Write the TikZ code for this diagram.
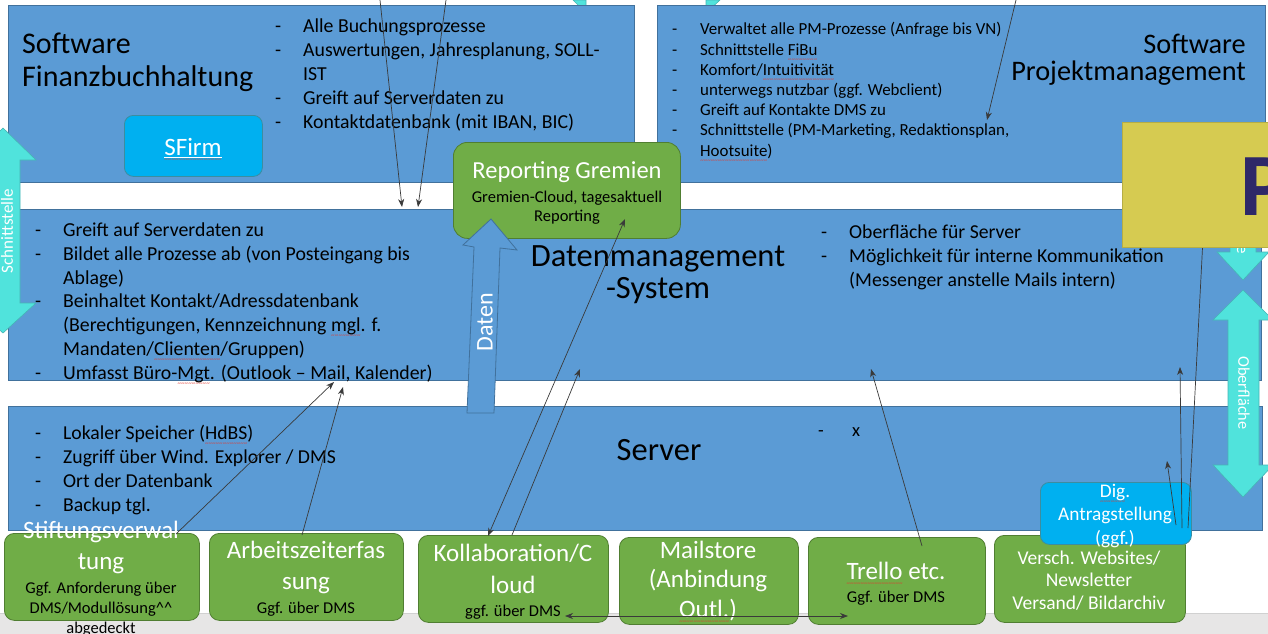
\documentclass[tikz,border=0pt]{standalone}
\usepackage{fontspec}
\setmainfont{Carlito}
\usetikzlibrary{arrows.meta}

\definecolor{boxblue}{HTML}{5B9BD5}
\definecolor{blueedge}{HTML}{41719C}
\definecolor{boxgreen}{HTML}{70AD47}
\definecolor{greenedge}{HTML}{507E32}
\definecolor{boxcyan}{HTML}{00B0F0}
\definecolor{cyanedge}{HTML}{3C8DA0}
\definecolor{turq}{HTML}{50E3DC}
\definecolor{turqedge}{HTML}{45B5B5}
\definecolor{boxyellow}{HTML}{D6CB51}
\definecolor{pnavy}{HTML}{2E2868}
\definecolor{linegray}{HTML}{3A3A3A}
\definecolor{stripgray}{HTML}{E7E6E6}
\definecolor{wavered}{HTML}{E03A30}

\newcommand\setfs[2]{\fontsize{#1}{#2}\selectfont}
\newcommand\dashitem{\makebox[28pt][l]{-}}
\newcommand\dashcont{\makebox[28pt][l]{}}
% red wavy line under a word
\newsavebox\wavebox
\newcommand\spellwave[1]{\leavevmode\sbox\wavebox{#1}%
  \rlap{\raisebox{-6pt}[0pt][0pt]{\textcolor{wavered}{\hbox to \wd\wavebox{\fontsize{7}{7}\selectfont\xleaders\hbox{\textasciitilde}\hfil}}}}%
  \usebox\wavebox}

\tikzset{
  bluebox/.style={draw=blueedge, fill=boxblue, line width=0.8pt, inner sep=0pt, anchor=north west},
  greenbox/.style={draw=greenedge, fill=boxgreen, line width=0.8pt, rounded corners=10pt, inner sep=0pt, anchor=north west},
  cyanbox/.style={draw=cyanedge, fill=boxcyan, line width=0.8pt, rounded corners=9pt, inner sep=0pt, anchor=north west},
  turqarrow/.style={draw=turqedge, fill=turq, line width=0.6pt},
  % multi-line texts sit on the baseline of their last line
  txt/.style={inner sep=0pt, anchor=base west, align=left},
  ctxt/.style={inner sep=0pt, anchor=base, align=center},
  conn/.style={draw=linegray, line width=0.7pt, -{Stealth[length=8pt,width=6pt]}},
  bothconn/.style={draw=linegray, line width=0.7pt, {Stealth[length=8pt,width=6pt]}-{Stealth[length=8pt,width=6pt]}}
}

\begin{document}
\begin{tikzpicture}[x=1pt, y=-1pt]
  \useasboundingbox (0,0) rectangle (1268,634);
  \fill[stripgray] (0,613) rectangle (1268,634);
  \draw[black!18, line width=0.8pt] (0,613) -- (1268,613);

  % arrow heads cut off at the upper edge
  \draw[turqarrow] (573,0) -- (586,13) -- (586,0) -- cycle;
  \draw[turqarrow] (706,0) -- (706,13) -- (720,0) -- cycle;

  \node[bluebox, minimum width=626pt, minimum height=177pt] (fibu) at (8,5) {};
  \node[bluebox, minimum width=608pt, minimum height=177pt] (pm) at (657,5) {};
  \node[bluebox, minimum width=1253pt, minimum height=171pt] (dms) at (8,209) {};
  \node[bluebox, minimum width=1254pt, minimum height=124pt] (server) at (8,406) {};

  \node[txt, font=\setfs{30}{33}] (fibutitle) at (22,86) {Software\\Finanzbuchhaltung};
  \node[txt, font=\setfs{19.8}{24}] (fibulist) at (275,128) {\dashitem Alle Buchungsprozesse\\
    \dashitem Auswertungen, Jahresplanung, SOLL-\\
    \dashcont IST\\
    \dashitem Greift auf Serverdaten zu\\
    \dashitem Kontaktdatenbank (mit IBAN, BIC)};
  \node[cyanbox, minimum width=138pt, minimum height=61pt] (sfirm) at (124,115) {};
  \node[ctxt, text=white, font=\setfs{25}{28}] (sfirmtext) at (193,155) {\spellwave{SFirm}};
  \draw[white, line width=0.8pt] ([yshift=-2pt]sfirmtext.base west) -- ([yshift=-2pt]sfirmtext.base east);

  \node[txt, font=\setfs{16.9}{20.2}] (pmlist) at (672,156) {\dashitem Verwaltet alle PM-Prozesse (Anfrage bis VN)\\
    \dashitem Schnittstelle \spellwave{FiBu}\\
    \dashitem Komfort/\spellwave{Intuitivität}\\
    \dashitem unterwegs nutzbar (ggf. Webclient)\\
    \dashitem Greift auf Kontakte DMS zu\\
    \dashitem Schnittstelle (PM-Marketing, Redaktionsplan,\\
    \dashcont \spellwave{Hootsuite})};
  \node[inner sep=0pt, anchor=base east, align=right, font=\setfs{28.3}{27}] (pmtitle) at (1246,80) {Software\\Projektmanagement};

  \node[txt, font=\setfs{19.8}{23.7}] (dmslist) at (35,379) {\dashitem Greift auf Serverdaten zu\\
    \dashitem Bildet alle Prozesse ab (von Posteingang bis\\
    \dashcont Ablage)\\
    \dashitem Beinhaltet Kontakt/Adressdatenbank\\
    \dashcont (Berechtigungen, Kennzeichnung \spellwave{mgl}. f.\\
    \dashcont Mandaten/\spellwave{Clienten}/Gruppen)\\
    \dashitem Umfasst Büro-\spellwave{Mgt}. (Outlook – Mail, Kalender)};
  \node[ctxt, font=\setfs{32.5}{32}] (dmstitle) at (658,298) {Datenmanagement\\-System};
  \node[txt, font=\setfs{19.7}{24}] (dmsright) at (821,286) {\dashitem Oberfläche für Server\\
    \dashitem Möglichkeit für interne Kommunikation\\
    \dashcont (Messenger anstelle Mails intern)};

  \node[txt, font=\setfs{19.7}{23.7}] (serverlist) at (35,511) {\dashitem Lokaler Speicher (\spellwave{HdBS})\\
    \dashitem Zugriff über Wind. Explorer / DMS\\
    \dashitem Ort der Datenbank\\
    \dashitem Backup tgl.};
  \node[ctxt, font=\setfs{32.5}{32}] (servertitle) at (659,460) {Server};
  \node[txt, font=\setfs{18.5}{22}] (serverx) at (818,436) {\makebox[34pt][l]{-}x};

  % Schnittstelle links, Oberflaeche rechts
  \draw[turqarrow] (3,128) -- (36,160) -- (20,160) -- (20,303) -- (36,303) -- (3,333)
    -- (-30,303) -- (-14,303) -- (-14,160) -- (-30,160) -- cycle;
  \node[rotate=90, text=white, font=\setfs{17}{20}] (schnittlbl) at (7,231) {Schnittstelle};
  \draw[turqarrow] (1230,130) -- (1256,130) -- (1256,252) -- (1269,252) -- (1243,280)
    -- (1217,252) -- (1230,252) -- cycle;
  \node[rotate=-90, text=white, font=\setfs{17}{20}] (schnittrlbl) at (1243,212) {Schnittstelle};
  \draw[turqarrow] (1243,290) -- (1273,320) -- (1259,320) -- (1259,465) -- (1273,465) -- (1243,497)
    -- (1213,465) -- (1228,465) -- (1228,320) -- (1213,320) -- cycle;
  \node[rotate=-90, text=white, font=\setfs{16.3}{20}] (oberlbl) at (1244,393) {Oberfläche};

  \node[greenbox, rounded corners=14pt, minimum width=227pt, minimum height=96pt] (report) at (453,142) {};
  \node[ctxt, text=white, font=\setfs{24.5}{28}] (reporttitle) at (567,178) {Reporting Gremien};
  \node[ctxt, font=\setfs{16.5}{19}] (reportsub) at (567,221) {Gremien-Cloud, tagesaktuell\\Reporting};

  \draw[draw=blueedge, fill=boxblue, line width=0.8pt] (467,413) -- (494,413) -- (500,248) -- (517,250)
    -- (491,219) -- (463,245) -- (474,247) -- cycle;
  \node[rotate=90, text=white, font=\setfs{24}{28}] (datenlbl) at (485,322) {Daten};

  \node[greenbox, minimum width=195pt, minimum height=87pt] (stift) at (4,533) {};
  \node[greenbox, minimum width=194pt, minimum height=87pt] (arbeit) at (209,533) {};
  \node[greenbox, minimum width=190pt, minimum height=87pt] (kollab) at (418,535) {};
  \node[greenbox, minimum width=179pt, minimum height=87pt] (mail) at (619,537) {};
  \node[greenbox, minimum width=177pt, minimum height=87pt] (trello) at (808,537) {};
  \node[greenbox, minimum width=191pt, minimum height=87pt] (web) at (994,535) {};
  \node[cyanbox, minimum width=151pt, minimum height=62pt] (dig) at (1040,482) {};

  \node[ctxt, text=white, font=\setfs{25}{31}] (stifttitle) at (101,569) {Stiftungsverwal\\tung};
  \node[ctxt, font=\setfs{16.5}{20}] (stiftsub) at (101,633) {Ggf. Anforderung über\\DMS/Modullösung\textasciicircum\textasciicircum\\abgedeckt};
  \node[ctxt, text=white, font=\setfs{25}{31}] (arbeittitle) at (306,589) {Arbeitszeiterfas\\sung};
  \node[ctxt, font=\setfs{16.5}{20}] (arbeitsub) at (306,613) {Ggf. über DMS};
  \node[ctxt, text=white, font=\setfs{25}{32}] (kollabtitle) at (513,593) {Kollaboration/C\\loud};
  \node[ctxt, font=\setfs{16.5}{20}] (kollabsub) at (513,616) {ggf. über DMS};
  \node[ctxt, text=white, font=\setfs{25}{29.5}] (mailtitle) at (708,617) {Mailstore\\(Anbindung\\\spellwave{Outl.})};
  \node[ctxt, text=white, font=\setfs{25}{28}] (trellotitle) at (896,579) {\spellwave{Trello} etc.};
  \node[ctxt, font=\setfs{16.5}{20}] (trellosub) at (896,602) {Ggf. über DMS};
  \node[ctxt, text=white, font=\setfs{19.5}{22.5}] (webtitle) at (1089,609) {Versch. Websites/\\Newsletter\\Versand/ Bildarchiv};
  \node[ctxt, text=white, font=\setfs{19.3}{23.5}] (digtitle) at (1115,544) {\spellwave{Dig}.\\Antragstellung\\(ggf.)};

  % connector ends
  \coordinate (topa) at (380,0);
  \coordinate (topb) at (446,0);
  \coordinate (topc) at (1016,0);
  \coordinate (dmsa) at (402,207);
  \coordinate (dmsb) at (418,207);
  \coordinate (pmin) at (987,120);
  \coordinate (stiftout) at (176,534);
  \coordinate (arbeitout) at (302,535);
  \coordinate (dmsc) at (334,382);
  \coordinate (dmsd) at (343,387);
  \coordinate (kollaba) at (488,536);
  \coordinate (kollabb) at (512,535);
  \coordinate (kollabc) at (565,616);
  \coordinate (reportin) at (625,219);
  \coordinate (dmse) at (580,369);
  \coordinate (trelloout) at (922,546);
  \coordinate (trelloin) at (848,616);
  \coordinate (dmsf) at (871,369);
  \coordinate (diga) at (1176,525);
  \coordinate (digb) at (1182,528);
  \coordinate (digc) at (1188,528);
  \coordinate (serverin) at (1167,461);
  \coordinate (dmsg) at (1180,367);
  \coordinate (pmrand) at (1203,238);

  \draw[conn] (topa) -- (dmsa);
  \draw[conn] (topb) -- (dmsb);
  \draw[conn] (topc) -- (pmin);
  \draw[conn] (stiftout) -- (dmsc);
  \draw[conn] (arbeitout) -- (dmsd);
  \draw[bothconn] (reportin) -- (kollaba);
  \draw[conn] (kollabb) -- (dmse);
  \draw[bothconn] (kollabc) -- (trelloin);
  \draw[conn] (trelloout) -- (dmsf);
  \draw[conn] (diga) -- (serverin);
  \draw[conn] (digb) -- (dmsg);
  \draw[conn] (digc) -- (pmrand);

  \node[draw=boxyellow!85!black, fill=boxyellow, line width=0.6pt, inner sep=0pt, anchor=north west,
    minimum width=153pt, minimum height=125pt] (yellow) at (1122,122) {};
  \node[anchor=base west, inner sep=0pt, text=pnavy, font=\setfs{89}{100}\bfseries] (plabel) at (1240,215) {P};
\end{tikzpicture}
\end{document}
